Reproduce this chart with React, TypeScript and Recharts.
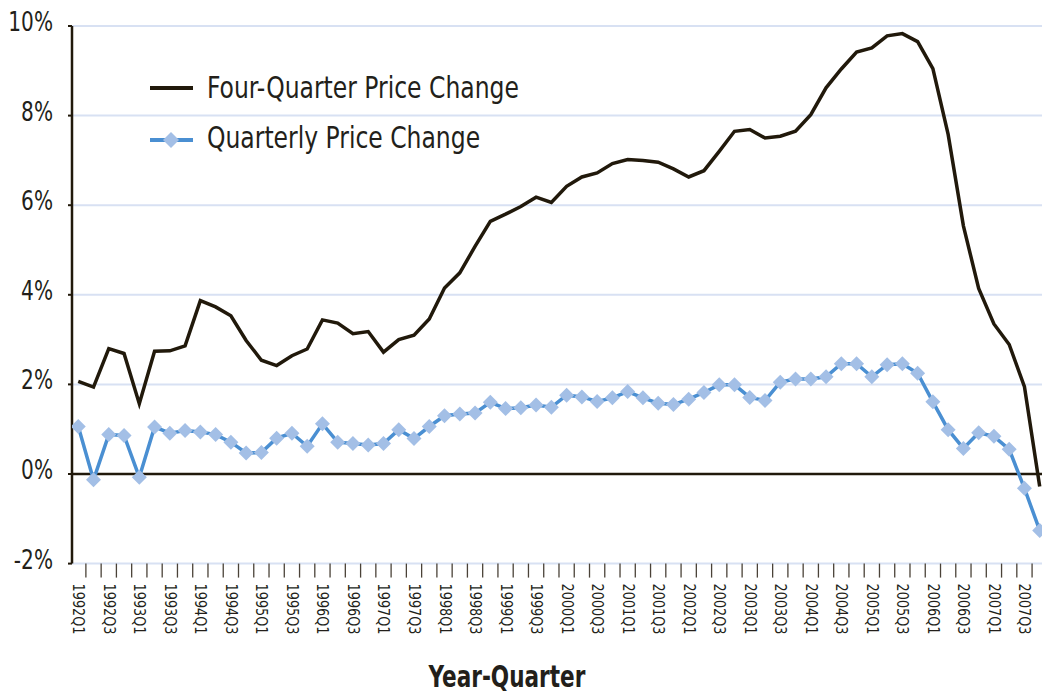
import React from 'react';
import { LineChart, Line, XAxis, YAxis, CartesianGrid, ReferenceLine, Legend } from 'recharts';

const quarters = [
  '1992Q1','1992Q2','1992Q3','1992Q4','1993Q1','1993Q2','1993Q3','1993Q4',
  '1994Q1','1994Q2','1994Q3','1994Q4','1995Q1','1995Q2','1995Q3','1995Q4',
  '1996Q1','1996Q2','1996Q3','1996Q4','1997Q1','1997Q2','1997Q3','1997Q4',
  '1998Q1','1998Q2','1998Q3','1998Q4','1999Q1','1999Q2','1999Q3','1999Q4',
  '2000Q1','2000Q2','2000Q3','2000Q4','2001Q1','2001Q2','2001Q3','2001Q4',
  '2002Q1','2002Q2','2002Q3','2002Q4','2003Q1','2003Q2','2003Q3','2003Q4',
  '2004Q1','2004Q2','2004Q3','2004Q4','2005Q1','2005Q2','2005Q3','2005Q4',
  '2006Q1','2006Q2','2006Q3','2006Q4','2007Q1','2007Q2','2007Q3','2007Q4',
];

const fourQuarter = [
  2.07, 1.94, 2.80, 2.69, 1.57, 2.74, 2.75, 2.86, 3.87, 3.73,
  3.53, 2.98, 2.54, 2.42, 2.64, 2.79, 3.44, 3.37, 3.13, 3.18,
  2.72, 3.00, 3.10, 3.46, 4.15, 4.49, 5.08, 5.64, 5.80, 5.97,
  6.18, 6.06, 6.42, 6.63, 6.72, 6.93, 7.02, 7.00, 6.96, 6.81,
  6.63, 6.77, 7.20, 7.65, 7.69, 7.50, 7.54, 7.65, 8.02, 8.62,
  9.04, 9.42, 9.51, 9.78, 9.83, 9.65, 9.05, 7.58, 5.54, 4.14,
  3.35, 2.89, 1.95, -0.28,
];

const quarterly = [
  1.06, -0.13, 0.88, 0.86, -0.07, 1.05, 0.91, 0.97, 0.94, 0.88,
  0.71, 0.47, 0.48, 0.80, 0.91, 0.62, 1.12, 0.71, 0.68, 0.65,
  0.68, 0.99, 0.79, 1.06, 1.30, 1.34, 1.36, 1.60, 1.46, 1.48,
  1.54, 1.49, 1.76, 1.72, 1.62, 1.70, 1.84, 1.70, 1.58, 1.55,
  1.67, 1.82, 1.99, 1.99, 1.71, 1.64, 2.05, 2.12, 2.12, 2.17,
  2.46, 2.46, 2.17, 2.44, 2.46, 2.25, 1.61, 0.99, 0.57, 0.92,
  0.84, 0.55, -0.32, -1.26,
];

const yTicks = [-2, 0, 2, 4, 6, 8, 10];
const seriesNames = ['Four-Quarter Price Change', 'Quarterly Price Change'];
const xTitle = 'Year-Quarter';

const data = quarters.map((q, i) => ({ i, q, four: fourQuarter[i], qtr: quarterly[i] }));

const labelTicks = quarters.map((_, i) => i).filter((i) => i % 2 === 0);
const boundaryTicks = quarters.slice(1).map((_, k) => k + 0.5);
const xTicks = [...labelTicks, ...boundaryTicks].sort((a, b) => a - b);

const FONT = '"Liberation Sans Narrow", "Arial Narrow", "DejaVu Sans Condensed", sans-serif';
const TEXT = '#231f1a';
const BLACK = '#21190b';
const BLUE_LINE = '#4a8fd2';
const BLUE_DOT = '#a3bfe6';
const GRID = '#d8e1f3';

const QuarterTick = (props: any) => {
  const { x, y, payload } = props;
  const v = payload.value;
  if (Number.isInteger(v)) {
    return (
      <text
        transform={`translate(${x - 5}, ${y + 20}) rotate(90) scale(0.95,1)`}
        fontSize={15}
        fontFamily={FONT}
        fill={TEXT}
        textAnchor="start"
      >
        {quarters[v]}
      </text>
    );
  }
  return <line x1={x} x2={x} y1={y} y2={y + 14} stroke="#4a4238" strokeWidth={1.3} />;
};

const PercentTick = (props: any) => {
  const { x, y, payload } = props;
  return (
    <text
      transform={`translate(${x}, ${y + 5}) scale(0.86,1)`}
      fontSize={26}
      fontFamily={FONT}
      fill={TEXT}
      textAnchor="end"
    >
      {`${payload.value}%`}
    </text>
  );
};

const TitleLabel = (props: any) => {
  const vb = props.viewBox || {};
  const cx = vb.x + vb.width / 2 - 50;
  const by = vb.y + vb.height - 7;
  return (
    <text
      transform={`translate(${cx}, ${by}) scale(0.8,1)`}
      fontSize={30}
      fontWeight="bold"
      fontFamily={FONT}
      fill={TEXT}
      textAnchor="middle"
    >
      {xTitle}
    </text>
  );
};

const Diamond = (props: any) => {
  const { cx, cy, index } = props;
  if (cx == null || cy == null) return <g key={index} />;
  const r = 7.5;
  return (
    <polygon
      key={index}
      points={`${cx},${cy - r} ${cx + r},${cy} ${cx},${cy + r} ${cx - r},${cy}`}
      fill={BLUE_DOT}
      stroke="none"
    />
  );
};

const LegendContent = () => (
  <svg width={420} height={100} style={{ overflow: 'visible' }}>
    <line x1={0} x2={43} y1={26} y2={26} stroke={BLACK} strokeWidth={4} />
    <text transform="translate(57, 36) scale(0.87,1)" fontSize={30} fontFamily={FONT} fill={TEXT}>
      {seriesNames[0]}
    </text>
    <line x1={0} x2={43} y1={78} y2={78} stroke={BLUE_LINE} strokeWidth={4} />
    <polygon points="21,70 29,78 21,86 13,78" fill={BLUE_DOT} />
    <text transform="translate(57, 86) scale(0.87,1)" fontSize={30} fontFamily={FONT} fill={TEXT}>
      {seriesNames[1]}
    </text>
  </svg>
);

export default function App() {
  return (
    <div style={{ position: 'absolute', left: 0, top: 0, width: 1042, height: 694, background: '#fff' }}>
      <LineChart width={1042} height={694} data={data} margin={{ top: 26, right: 0, left: 0, bottom: 0 }}>
        <CartesianGrid horizontal vertical={false} stroke={GRID} strokeWidth={2} />
        <XAxis
          dataKey="i"
          type="number"
          domain={[-0.41, 63.15]}
          allowDataOverflow
          ticks={xTicks}
          interval={0}
          tickLine={false}
          axisLine={false}
          tickSize={0}
          tickMargin={0}
          height={130.4}
          tick={<QuarterTick />}
          label={<TitleLabel />}
        />
        <YAxis
          type="number"
          domain={[-2, 10]}
          ticks={yTicks}
          interval={0}
          width={72}
          tick={<PercentTick />}
          tickSize={4}
          tickMargin={15}
          tickLine={{ stroke: BLACK, strokeWidth: 2 }}
          axisLine={{ stroke: BLACK, strokeWidth: 2.5 }}
        />
        <ReferenceLine y={0} stroke={BLACK} strokeWidth={2.5} />
        <Legend
          layout="horizontal"
          align="center"
          verticalAlign="middle"
          content={<LegendContent />}
          wrapperStyle={{ position: 'absolute', left: 150, top: 62, width: 420, height: 100 }}
        />
        <Line
          type="linear"
          dataKey="qtr"
          name={seriesNames[1]}
          stroke={BLUE_LINE}
          strokeWidth={3.5}
          dot={Diamond}
          activeDot={false}
          isAnimationActive={false}
        />
        <Line
          type="linear"
          dataKey="four"
          name={seriesNames[0]}
          stroke={BLACK}
          strokeWidth={3.5}
          dot={false}
          activeDot={false}
          isAnimationActive={false}
        />
      </LineChart>
    </div>
  );
}
